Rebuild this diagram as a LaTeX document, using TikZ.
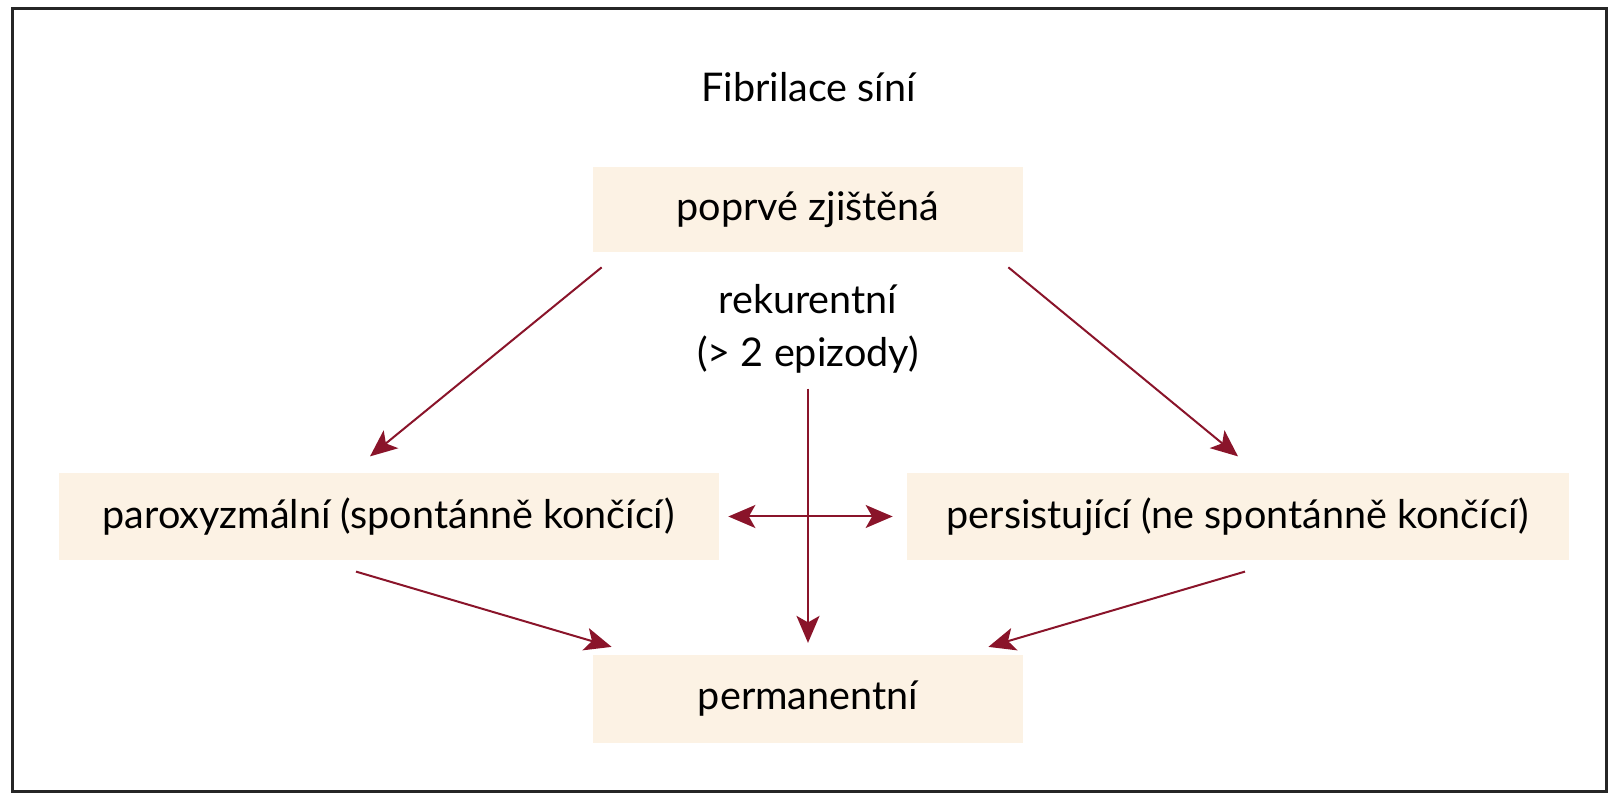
\documentclass[tikz,border=0pt]{standalone}
\usepackage{fontspec}
\setmainfont{Lato}
\usepackage{xcolor}
\usetikzlibrary{arrows.meta,calc}
\definecolor{boxfill}{RGB}{252,242,228}
\definecolor{arrowred}{RGB}{138,20,42}

\begin{document}
\begin{tikzpicture} [>={Stealth[length=0.54cm,width=0.46cm,inset=0.13cm]},
  box/.style={fill=boxfill, minimum height=1.75cm, inner sep=0pt},
  label/.style={inner sep=0pt, font=\fontsize{22.5}{30}\selectfont},
  arr/.style={->, arrowred, line width=0.04cm}]
\useasboundingbox (0,0) rectangle (32.36,16);
\draw[line width=0.06cm, black!85] (0.24,0.16) rectangle (32.12,15.82);
\node[label, anchor=base] (title) at (16.17,13.96) {Fibrilace síní};
\node[box, label, minimum width=8.6cm, minimum height=1.7cm] (first) at (16.16,11.81) {poprvé zjištěná};
\node[label, align=center] (recur) at (16.16,9.42) {rekurentní\\(> 2 epizody)};
\node[box, label, minimum width=13.2cm] (parox) at (7.78,5.67) {paroxyzmální (spontánně končící)};
\node[box, label, minimum width=13.24cm] (persist) at (24.76,5.67) {persistující (ne spontánně končící)};
\node[box, label, minimum width=8.6cm] (perm) at (16.16,2.02) {permanentní};
% sipky
\draw[arr] ([shift={(0.18,-0.3)}]first.south west) -- ([shift={(-0.38,0.32)}]parox.north);
\draw[arr] ([shift={(-0.3,-0.3)}]first.south east) -- ([shift={(0,0.32)}]persist.north);
\draw[arr] ([shift={(-0.66,-0.22)}]parox.south) -- ([shift={(0.38,0.16)}]perm.north west);
\draw[arr] ([shift={(0.14,-0.22)}]persist.south) -- ([shift={(-0.7,0.16)}]perm.north east);
\draw[arr, shorten <=0.3cm] (recur.south) -- ([yshift=0.24cm]perm.north);
\draw[arr, <->, shorten <=0.18cm, shorten >=0.28cm] (parox.east) -- (persist.west);
\end{tikzpicture}
\end{document}
